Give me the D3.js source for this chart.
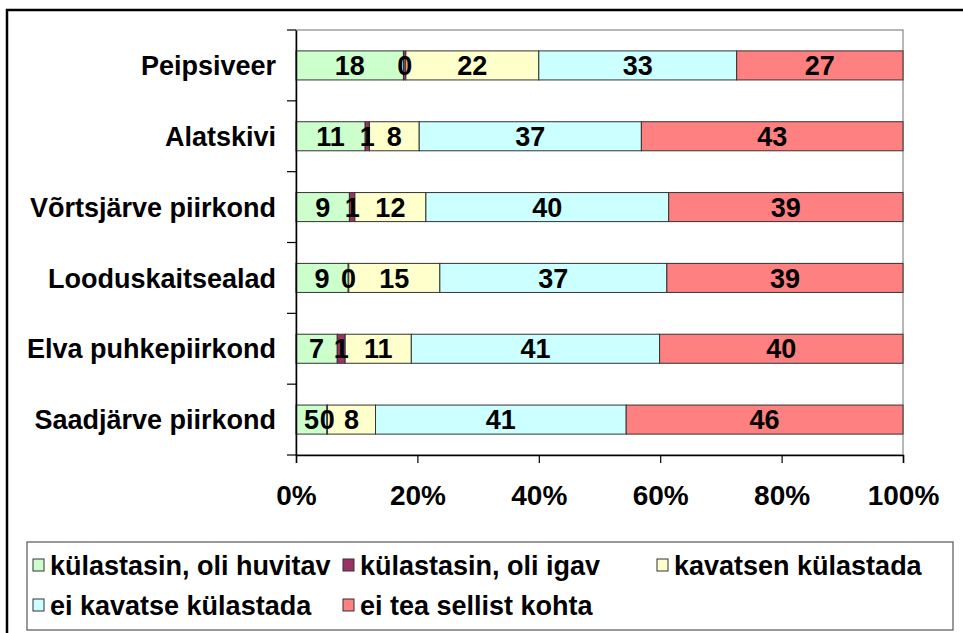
<!DOCTYPE html>
<html>
<head>
<meta charset="utf-8">
<script src="https://cdn.jsdelivr.net/npm/d3@7"></script>
<style>
  body { margin: 0; background: #fff; }
  text { font-family: "Liberation Sans", Arial, sans-serif; font-weight: bold; fill: #000; }
</style>
</head>
<body>
<svg width="963" height="633"></svg>
<script>
// categories, top to bottom
const categories = ["Peipsiveer", "Alatskivi", "Võrtsjärve piirkond", "Looduskaitsealad", "Elva puhkepiirkond", "Saadjärve piirkond"]
const seriesNames = ["külastasin, oli huvitav", "külastasin, oli igav", "kavatsen külastada", "ei kavatse külastada", "ei tea sellist kohta"]
const seriesColors = ["#CCFFCC", "#993366", "#FFFFCC", "#CCFFFF", "#FF8080"]

// percent shares (labels show them rounded)
const huvitav  = [17.7, 11.4, 8.8, 8.6, 6.8, 5.1]
const igav     = [0.4, 0.7, 0.9, 0.1, 1.3, 0.1]
const kavatsen = [21.9, 8.2, 11.7, 15.0, 10.9, 7.9]
const eiKavats = [32.6, 36.6, 40.0, 37.4, 40.9, 41.3]
const eiTea    = [27.4, 43.1, 38.6, 38.9, 40.1, 45.6]
const tickValues = [0, 0.2, 0.4, 0.6, 0.8, 1]

const series = [huvitav, igav, kavatsen, eiKavats, eiTea]
const rows = categories.map((c, i) => {
  const r = { cat: c }
  seriesNames.forEach((s, j) => { r[s] = series[j][i] })
  return r
})

const svg = d3.select("svg")
const margin = { left: 296, top: 30, right: 60, bottom: 178 }
const width = 903 - margin.left
const height = 455 - margin.top

// outer frame (runs off the right/bottom edge like the original)
svg.append("rect")
  .attr("x", 7).attr("y", 10).attr("width", 1000).attr("height", 700)
  .attr("fill", "none").attr("stroke", "#000").attr("stroke-width", 2.5)

const g = svg.append("g").attr("transform", `translate(${margin.left},${margin.top})`)

const x = d3.scaleLinear().domain([0, 1]).range([0, width])
const y = d3.scaleBand().domain(categories).range([0, height]).paddingInner(0.59).paddingOuter(0.295)

// plot area border
g.append("rect")
  .attr("width", width).attr("height", height)
  .attr("fill", "none").attr("stroke", "#888").attr("stroke-width", 1.2)

const stack = d3.stack().keys(seriesNames).offset(d3.stackOffsetExpand)
const stacked = stack(rows)

const layer = g.selectAll(".layer")
  .data(stacked)
  .enter().append("g")
  .attr("class", "layer")
  .attr("fill", (d, i) => seriesColors[i])

layer.selectAll("rect")
  .data(d => d)
  .enter().append("rect")
  .attr("x", d => x(d[0]))
  .attr("y", d => y(d.data.cat))
  .attr("width", d => x(d[1]) - x(d[0]))
  .attr("height", y.bandwidth())
  .attr("stroke", "#333")
  .attr("stroke-width", 1)

// value labels
stacked.forEach(s => {
  g.append("g").selectAll("text")
    .data(s)
    .enter().append("text")
    .attr("x", d => x((d[0] + d[1]) / 2))
    .attr("y", d => y(d.data.cat) + y.bandwidth() / 2)
    .attr("dy", "0.36em")
    .attr("text-anchor", "middle")
    .style("font-size", "27px")
    .text(d => Math.round(d.data[s.key]))
})

// category axis
const yAxis = g.append("g")
  .call(d3.axisLeft(y).tickSize(0).tickPadding(20))
yAxis.select(".domain").attr("stroke", "#000").attr("stroke-width", 1.5)
yAxis.selectAll("text").style("font-size", "27px").attr("dy", "0.36em")

// ticks sit on the band boundaries
g.append("g").selectAll("line")
  .data(d3.range(categories.length + 1))
  .enter().append("line")
  .attr("x1", -9).attr("x2", 0)
  .attr("y1", i => i * height / categories.length)
  .attr("y2", i => i * height / categories.length)
  .attr("stroke", "#000").attr("stroke-width", 1.2)

// percent axis
const xAxis = g.append("g")
  .attr("transform", `translate(0,${height})`)
  .call(d3.axisBottom(x).tickValues(tickValues).tickFormat(d3.format(".0%")).tickSize(8).tickPadding(22))
xAxis.select(".domain").attr("stroke", "#000").attr("stroke-width", 1.5)
xAxis.selectAll(".tick line").attr("stroke", "#000").attr("stroke-width", 1.2)
xAxis.selectAll("text").style("font-size", "28px")

// legend
const legend = svg.append("g").attr("transform", "translate(27,542)")
legend.append("rect")
  .attr("width", 926).attr("height", 88)
  .attr("fill", "#fff").attr("stroke", "#555").attr("stroke-width", 1.2)

const legendPos = [[6, 23], [316, 23], [630, 23], [6, 63], [316, 63]]
const item = legend.selectAll(".item")
  .data(seriesNames)
  .enter().append("g")
  .attr("class", "item")
  .attr("transform", (d, i) => `translate(${legendPos[i][0]},${legendPos[i][1]})`)

item.append("rect")
  .attr("x", 0).attr("y", -6).attr("width", 11).attr("height", 12)
  .attr("fill", (d, i) => seriesColors[i])
  .attr("stroke", "#333").attr("stroke-width", 1)

item.append("text")
  .attr("x", 17).attr("dy", "0.36em")
  .style("font-size", "27px")
  .text(d => d)
</script>
</body>
</html>
